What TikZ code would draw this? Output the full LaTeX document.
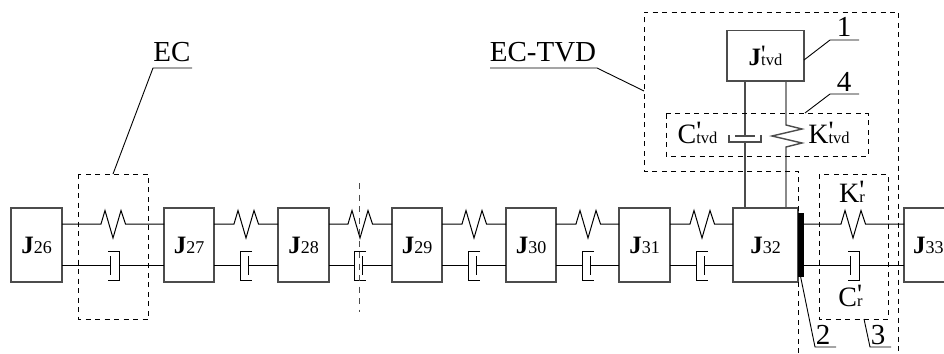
\documentclass[tikz,border=0pt]{standalone}
\usepackage{fontspec}
\setmainfont{Liberation Serif}
\newfontfamily\straight{Liberation Serif}
\definecolor{ln}{gray}{0.3}
\tikzset{
  x=1pt,y=-1pt,
  inertia/.style={draw=ln,line width=1.1pt,inner sep=0pt,outer sep=0pt,minimum height=74pt},
  shaft/.style={draw=black,line width=1pt},
  thickshaft/.style={draw=ln,line width=1.4pt},
  dashbox/.style={draw=black,line width=0.9pt,dash pattern=on 5pt off 4.5pt},
  cutline/.style={draw=ln,line width=1pt,dash pattern=on 6pt off 5.5pt},
  leader/.style={draw=black,line width=0.9pt},
  lab/.style={inner sep=0pt,outer sep=0pt,font=\fontsize{29}{29}\selectfont},
}
\newcommand{\Jlab}[1]{{\fontsize{25}{25}\selectfont\bfseries J}{\fontsize{18}{18}\selectfont #1}}
\newcommand{\primed}[4]{{\fontsize{#3}{#3}\selectfont #1\rlap{\raisebox{0.1em}{\straight\fontsize{#4}{#4}\selectfont '}}{\fontsize{16.5}{16.5}\selectfont #2}}}
\newcommand{\link}[4]{% left node, right node, spring centre, cup opens: 1 left / -1 right
  \coordinate (st#1) at (#1.east |- 0,224);
  \coordinate (et#1) at (#2.west |- 0,224);
  \coordinate (sb#1) at (#1.east |- 0,265);
  \coordinate (eb#1) at (#2.west |- 0,265);
  \draw[shaft] (st#1) -- (#3-12,224) -- (#3-8,210.5) -- (#3,238) -- (#3+8,210.5) -- (#3+12.5,224) -- (et#1);
  \ifnum#4=1
    \draw[shaft] (sb#1) -- (#3-2.5,265) (#3-2.5,256) -- (#3-2.5,275);
    \draw[shaft] (#3-5,251) -- (#3+6,251) -- (#3+6,280) -- (#3-5,280) (#3+6,265) -- (eb#1);
  \else
    \draw[shaft] (sb#1) -- (#3-6,265) (#3+6,251) -- (#3-6,251) -- (#3-6,280) -- (#3+6,280);
    \draw[shaft] (#3+2,256) -- (#3+2,275) (#3+2,265) -- (eb#1);
  \fi
}
\begin{document}
\begin{tikzpicture}
\useasboundingbox (0,0) rectangle (944,353);
\clip (0,0) rectangle (944,353);
% inertias
\node[inertia,minimum width=51pt] (J26) at (36.5,245) {\Jlab{26}};
\node[inertia,minimum width=50pt] (J27) at (189,245) {\Jlab{27}};
\node[inertia,minimum width=51pt] (J28) at (303.5,245) {\Jlab{28}};
\node[inertia,minimum width=50pt] (J29) at (417,245) {\Jlab{29}};
\node[inertia,minimum width=50pt] (J30) at (531,245) {\Jlab{30}};
\node[inertia,minimum width=51pt] (J31) at (644.5,245) {\Jlab{31}};
\node[inertia,minimum width=65pt] (J32) at (765.5,245) {\Jlab{32}};
\node[inertia,minimum width=60pt,text width=42pt,align=left] (J33) at (934,245) {\Jlab{33}};
% links
\link{J26}{J27}{113}{1}
\link{J27}{J28}{246}{-1}
\link{J28}{J29}{360}{-1}
\link{J29}{J30}{474}{-1}
\link{J30}{J31}{588}{-1}
\link{J31}{J32}{702}{-1}
\link{J32}{J33}{853}{1}
% coupling disc
\node[draw=black,fill=black,line width=0.5pt,inner sep=0pt,minimum width=4.5pt,minimum height=63pt] (disc) at (800.5,244.5) {};
% tvd
\node[inertia,minimum width=77pt,minimum height=50.5pt] (Jt) at (765.5,55.75)
  {\primed{{\bfseries J}}{tvd}{25}{25}};
\coordinate (t1) at (745,207);
\coordinate (t2) at (786,207);
\draw[thickshaft] (Jt.south -| t1) -- (745,136);
\draw[thickshaft] (735,136) -- (755,136);
\draw[thickshaft] (729,135) -- (729,142) -- (761,142) -- (761,135) (745,142) -- (t1);
\draw[thickshaft] (Jt.south -| t2) -- (786,125) -- (802,129) -- (772,136) -- (802,143) -- (786,147) -- (t2);
% dashed groups
\draw[dashbox] (78.5,174) rectangle (148.5,319);
\draw[dashbox] (666,113.5) rectangle (868,156);
\draw[dashbox] (819,174) rectangle (888,319);
\draw[dashbox] (798,353) -- (798,171) -- (644,171) -- (644,12) -- (898,12) -- (898,353);
\draw[cutline] (359,183) -- (359,312);
% labels
\node[lab,anchor=base] (lEC) at (172,62) {EC};
\node[lab,anchor=base] (lTVD) at (543,62) {EC-TVD};
\node[lab,anchor=base] (l1) at (844,37) {1};
\node[lab,anchor=base] (l4) at (844,91) {4};
\node[lab,anchor=base] (l2) at (823,344) {2};
\node[lab,anchor=base] (l3) at (878,344) {3};
\node[anchor=base,inner sep=0pt] (lCt) at (697.5,143) {\primed{C}{tvd}{28}{28}};
\node[anchor=base,inner sep=0pt] (lKt) at (829,143) {\primed{K}{tvd}{28}{28}};
\node[anchor=base,inner sep=0pt] (lKr) at (852,202) {\primed{K}{r}{28}{28}};
\node[anchor=base,inner sep=0pt] (lCr) at (850.5,306) {\primed{C}{r}{28}{28}};
% leaders
\draw[leader] (113,174) -- (153,68) -- (192,68);
\draw[leader] (644,91) -- (597,68) -- (490,68);
\draw[leader] (Jt.east |- 0,60) -- (830,40) -- (859,40);
\draw[leader] (805,113) -- (830,94) -- (859,94);
\draw[leader] (disc.south) -- (815,347) -- (836,347);
\draw[leader] (864,319) -- (870,347) -- (891,347);
\end{tikzpicture}
\end{document}
